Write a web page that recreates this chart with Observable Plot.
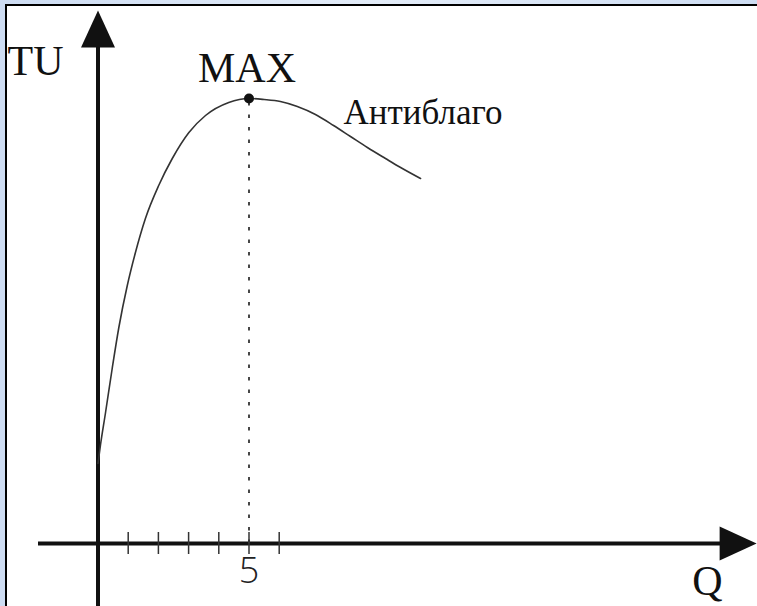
<!DOCTYPE html>
<html>
<head>
<meta charset="utf-8">
<script src="https://cdn.jsdelivr.net/npm/d3@7"></script>
<script src="https://cdn.jsdelivr.net/npm/@observablehq/plot@0.6"></script>
<style>
  html, body { margin: 0; padding: 0; overflow: hidden; background: #fff; }
  body { width: 757px; height: 606px; }
  #wrap { position: relative; width: 757px; height: 606px; overflow: hidden; background: linear-gradient(90deg, #cddcf2, #e3ecf8 50%, #cddcf2); }
  #sheet { position: absolute; left: 5px; top: 4px; right: -40px; bottom: -40px; border-left: 2.5px solid #000; border-top: 2.5px solid #000; background: #fff; }
</style>
</head>
<body>
<div id="wrap"><div id="sheet"></div></div>
<script>
// Total utility curve of an "anti-good": Q (quantity) vs TU (total utility)
const curveQ  = [0, 0.08, 0.25, 0.47, 0.69, 0.97, 1.24, 1.57, 2.01, 2.46, 3.01, 3.56, 4.33, 5, 5.5, 6.04, 6.6, 7.2, 7.8, 8.36, 8.92, 9.52, 10.02, 10.68];
const curveTU = [8.0, 9.8, 13.1, 17.5, 21.6, 25.8, 29.1, 32.5, 35.8, 38.5, 41.1, 42.8, 44.1, 44.5, 44.4, 44.2, 43.7, 42.9, 41.8, 40.7, 39.6, 38.5, 37.6, 36.5];

const qTicks = [1, 2, 3, 4, 5, 6];
const qTickLabels = [5];

// axis extents (data units)
const xAxisStart = -1.97, xAxisEnd = 20.65;
const yAxisStart = -7, yAxisEnd = 49.8;

const labelY = "TU";
const labelX = "Q";
const labelMax = "MAX";
const labelCurve = "Антиблаго";

const curve = curveQ.map((q, i) => ({q, tu: curveTU[i]}));
const peak = d3.greatest(curve, d => d.tu);
const last = curve[curve.length - 1];

const arrowHead = {
  draw(ctx) {
    ctx.moveTo(0, -35);
    ctx.lineTo(17, 2);
    ctx.lineTo(-17, 2);
    ctx.closePath();
  }
};

const serif = "'Liberation Serif', 'Times New Roman', serif";
const ink = "#111";

const chart = Plot.plot({
  width: 757,
  height: 606,
  marginTop: 0, marginLeft: 0, marginRight: 0, marginBottom: 63,
  style: {background: "transparent", position: "absolute", left: "0px", top: "0px", maxWidth: "none"},
  x: {domain: [0, 20], range: [97.5, 701.5], axis: null},
  y: {domain: [0, 50], range: [543, 43], axis: null},
  marks: [
    // axis shafts
    Plot.ruleY([0], {x1: xAxisStart, x2: xAxisEnd, stroke: ink, strokeWidth: 4}),
    Plot.ruleX([0], {y1: yAxisStart, y2: yAxisEnd, stroke: ink, strokeWidth: 4}),
    // arrow heads
    Plot.dot([{q: xAxisEnd, tu: 0}], {x: "q", y: "tu", symbol: arrowHead, rotate: 90, fill: ink, stroke: "none"}),
    Plot.dot([{q: 0, tu: yAxisEnd}], {x: "q", y: "tu", symbol: arrowHead, rotate: 0, fill: ink, stroke: "none"}),
    // small ticks on Q axis
    Plot.axisX({ticks: qTicks, tickSize: 22, dy: -11, tickFormat: () => "", label: null, stroke: "#333", strokeWidth: 1.5}),
    Plot.text(qTickLabels, {x: d => d, text: d => String(d), frameAnchor: "bottom", lineAnchor: "top", dy: 14,
      fontSize: 36, fontWeight: 300, fontFamily: "'Open Sans', sans-serif", fill: "#222"}),
    // dotted drop line from maximum
    Plot.ruleX([peak], {x: "q", y1: 0, y2: "tu", stroke: "#333", strokeWidth: 1.8, strokeDasharray: "3.5,9"}),
    // TU curve
    Plot.line(curve, {x: "q", y: "tu", curve: "monotone-x", stroke: "#333", strokeWidth: 1.6}),
    // maximum point
    Plot.dot([peak], {x: "q", y: "tu", r: 5, fill: ink, stroke: "none"}),
    // labels
    Plot.text([labelMax], {x: () => peak.q, y: () => peak.tu, text: d => d, lineAnchor: "bottom", dy: -17, dx: -2,
      fontSize: 42, fontFamily: serif, fill: ink}),
    Plot.text([labelCurve], {x: () => last.q, y: () => last.tu, text: d => d, textAnchor: "start", lineAnchor: "bottom", dx: -77, dy: -55,
      fontSize: 35, fontFamily: serif, fill: ink}),
    Plot.text([labelY], {frameAnchor: "top-left", text: d => d, textAnchor: "start", lineAnchor: "top", dx: 7, dy: 45,
      fontSize: 42, fontFamily: serif, fill: ink}),
    Plot.text([labelX], {frameAnchor: "bottom-right", text: d => d, textAnchor: "end", lineAnchor: "top", dx: -35, dy: 22,
      fontSize: 42, fontFamily: serif, fill: ink})
  ]
});
document.getElementById("wrap").appendChild(chart);
</script>
</body>
</html>
